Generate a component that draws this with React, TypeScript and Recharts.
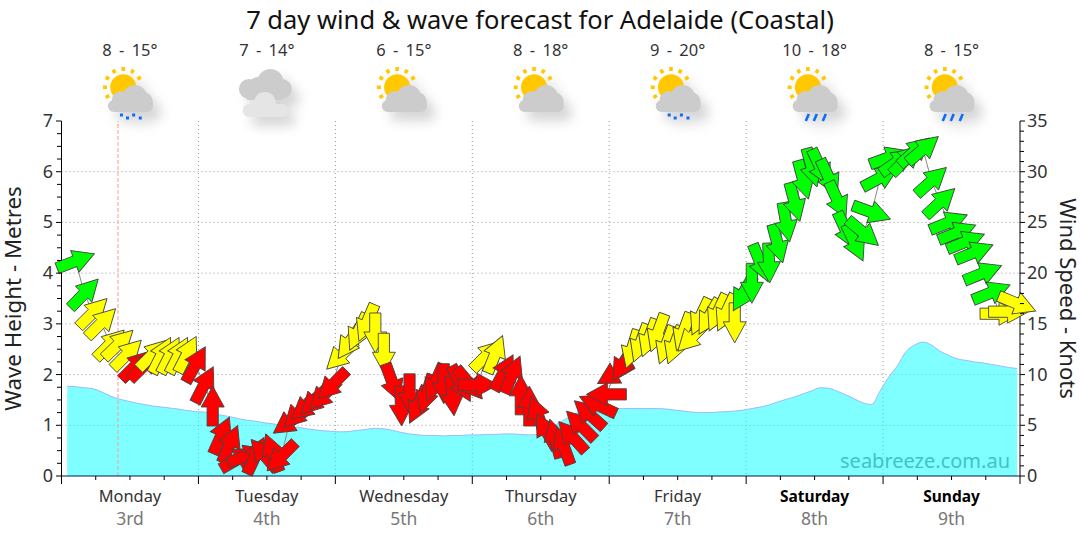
import React from "react";
import { ComposedChart, Area, Line, XAxis, YAxis, CartesianGrid, ReferenceLine } from "recharts";

const FONT = "'Noto Sans', Tahoma, sans-serif";

const dayNames = ["Monday", "Tuesday", "Wednesday", "Thursday", "Friday", "Saturday", "Sunday"];
const dayDates = ["3rd", "4th", "5th", "6th", "7th", "8th", "9th"];
const boldDays = ["Saturday", "Sunday"];
const tempLabels = ["8 - 15°", "7 - 14°", "6 - 15°", "8 - 18°", "9 - 20°", "10 - 18°", "8 - 15°"];
const iconKinds = ["drizzle", "overcast", "partly", "partly", "drizzle", "rain", "rain"];

const hourTicks = [0, 6, 12, 18, 24, 30, 36, 42, 48, 54, 60, 66, 72, 78, 84, 90, 96, 102, 108, 114, 120, 126, 132, 138, 144, 150, 156, 162, 168];
const dayBoundaries = [24, 48, 72, 96, 120, 144];
const noonTicks = [12, 36, 60, 84, 108, 132, 156];
const waveTicks = [0, 0.25, 0.5, 0.75, 1, 1.25, 1.5, 1.75, 2, 2.25, 2.5, 2.75, 3, 3.25, 3.5, 3.75, 4, 4.25, 4.5, 4.75, 5, 5.25, 5.5, 5.75, 6, 6.25, 6.5, 6.75, 7];
const waveGrid = [1, 2, 3, 4, 5, 6];
const windTicks = Array.from({ length: 36 }, (_, k) => k);

const waveHeight = [
  1.77, 1.76, 1.74, 1.72, 1.66, 1.58, 1.52, 1.48, 1.44, 1.41,
  1.38, 1.36, 1.34, 1.32, 1.29, 1.27, 1.26, 1.23, 1.2, 1.17,
  1.13, 1.1, 1.08, 1.05, 1.03, 1.0, 0.97, 0.96, 0.93, 0.91,
  0.89, 0.88, 0.87, 0.88, 0.9, 0.92, 0.94, 0.93, 0.9, 0.86,
  0.83, 0.81, 0.8, 0.8, 0.79, 0.8, 0.8, 0.81, 0.81, 0.82,
  0.82, 0.83, 0.83, 0.82, 0.81, 0.82, 0.88, 1.0, 1.1, 1.2,
  1.27, 1.31, 1.33, 1.33, 1.33, 1.33, 1.33, 1.33, 1.33, 1.33,
  1.32, 1.3, 1.28, 1.26, 1.25, 1.25, 1.26, 1.27, 1.28, 1.3,
  1.33, 1.36, 1.4, 1.46, 1.51, 1.56, 1.62, 1.68, 1.74, 1.73,
  1.67, 1.6, 1.52, 1.44, 1.41, 1.68, 1.95, 2.17, 2.45, 2.58,
  2.64, 2.58, 2.46, 2.38, 2.31, 2.28, 2.25, 2.23, 2.2, 2.17,
  2.14, 2.12,
];

const windSpeed = [
  null, 21.2, 18.0, 16.1, 15.1, 13.0, 13.0, 12.0, 10.9, 10.9,
  12.0, 11.9, 11.9, 11.9, 12.0, 11.0, 9.0, 6.9, 4.0, 3.15,
  1.7, 2.0, 2.0, 2.1, 2.3, 1.9, 5.35, 6.2, 6.9, 7.5,
  8.0, 9.0, 11.9, 13.2, 14.2, 15.1, 14.1, 12.1, 9.2, 6.9,
  8.1, 7.0, 8.1, 9.2, 9.1, 7.9, 9.1, 9.1, 9.0, 11.9,
  12.0, 10.2, 10.0, 8.0, 6.9, 6.0, 4.4, 3.7, 3.0, 3.9,
  5.0, 6.1, 7.0, 8.05, 10.1, 11.1, 12.5, 13.1, 13.6, 14.1,
  12.9, 12.9, 14.2, 13.7, 15.7, 15.7, 16.1, 16.1, 15.1, 18.0,
  19.0, 21.0, 21.0, 22.9, 25.0, 27.0, 29.2, 30.4, 30.4, 29.4,
  27.2, 24.2, 23.0, 24.0, 26.0, 29.4, 31.4, 31.0, 31.2, 32.0,
  32.2, 29.1, 27.0, 25.0, 24.0, 23.1, 22.05, 20.0, 18.1, 16.0,
  16.2, 17.0,
];

// compass heading each arrow points to, degrees
const windHeading = [
  0, 69, 44, 45, 45, 45, 46, 45, 45, 45,
  45, 27, 27, 27, 27, 29, 27, 0, 24, 23,
  60, 70, 25, 320, 340, 225, 235, 225, 230, 225,
  225, 225, 226, 215, 205, 203, 180, 180, 160, 178,
  180, 205, 197, 204, 180, 175, 152, 140, 90, 45,
  22, 28, 23, 0, 0, 340, 330, 345, 340, 318,
  315, 312, 295, 270, 240, 212, 197, 200, 200, 200,
  200, 200, 200, 225, 205, 210, 205, 205, 180, 210,
  180, 158, 178, 165, 170, 165, 165, 165, 155, 155,
  155, 155, 155, 130, 110, 62, 70, 55, 45, 48,
  50, 48, 47, 68, 68, 68, 68, 68, 68, 90,
  90, 112,
];

const chartData = waveHeight.map((wave, i) => ({
  hour: 1 + i * 1.5,
  wave,
  wind: windSpeed[i],
  heading: windHeading[i],
}));

const arrowColour = (speed: number) => (speed < 11.5 ? "#ff0000" : speed < 17.5 ? "#ffff00" : "#00ff00");
const ARROW = "0,-20 11.5,1 5.6,1 5.6,20 -5.6,20 -5.6,1 -11.5,1";

const WindArrow = (props: any) => {
  const { cx, cy, payload, index } = props;
  if (payload.wind == null || cy == null) return <g key={index} />;
  return (
    <polygon
      key={index}
      points={ARROW}
      transform={`translate(${cx},${cy}) rotate(${payload.heading})`}
      fill={arrowColour(payload.wind)}
      stroke="#444"
      strokeWidth={0.9}
    />
  );
};

const Cloud = ({ fill }: { fill: string }) => (
  <g fill={fill}>
    <circle cx={5} cy={2} r={12} />
    <circle cx={-9} cy={5} r={9} />
    <circle cx={13} cy={7} r={10} />
    <rect x={-22} y={5} width={45} height={12} rx={6} />
  </g>
);

const rayAngles = [0, 30, 60, 240, 270, 300, 330];

const Sun = () => (
  <g>
    <circle cx={-6.7} cy={-7.7} r={13} fill="#ffc800" />
    {rayAngles.map((a) => (
      <rect key={a} x={-8.5} y={-28} width={3.6} height={4} fill="#ffc800" transform={`rotate(${a} -6.7 -7.7)`} />
    ))}
  </g>
);

const WeatherIcon = ({ kind }: { kind: string }) => {
  if (kind === "overcast") {
    return (
      <g style={{ filter: "drop-shadow(8px 9px 6px rgba(0,0,0,0.16))" }}>
        <g fill="#cccccc">
          <circle cx={3.5} cy={-13} r={13} />
          <circle cx={-18} cy={-6} r={10} />
          <circle cx={-9} cy={-8} r={10} />
          <circle cx={15} cy={-6} r={10} />
          <rect x={-20} y={-8} width={35} height={13} />
        </g>
        <g fill="#e5e5e5">
          <circle cx={-2} cy={8} r={11} />
          <rect x={-24} y={9} width={45} height={13} rx={6} />
        </g>
      </g>
    );
  }
  return (
    <g style={{ filter: "drop-shadow(8px 9px 6px rgba(0,0,0,0.16))" }}>
      <Sun />
      <Cloud fill="#cccccc" />
      {kind === "drizzle" &&
        [[-8.5, 20], [-2.5, 23], [3.7, 20], [10.3, 23]].map(([x, y]) => (
          <rect key={x} x={x - 1.5} y={y - 1.5} width={3} height={3} fill="#0a6cff" />
        ))}
      {kind === "rain" &&
        [-7, 1, 10].map((x) => (
          <line key={x} x1={x + 1.2} y1={19} x2={x - 1.8} y2={26} stroke="#0a6cff" strokeWidth={2.6} />
        ))}
    </g>
  );
};

const TopTick = (props: any) => {
  const { x, payload } = props;
  const d = noonTicks.indexOf(payload.value);
  if (d < 0) return <g />;
  return (
    <g>
      <text x={x} y={56} textAnchor="middle" fontSize={16.5} wordSpacing={3} fill="#333" fontFamily={FONT}>
        {tempLabels[d]}
      </text>
      <g transform={`translate(${x},95)`}>
        <WeatherIcon kind={iconKinds[d]} />
      </g>
    </g>
  );
};

const BottomTick = (props: any) => {
  const { x, payload } = props;
  const v = payload.value;
  const major = v % 24 === 0;
  const d = noonTicks.indexOf(v);
  const bold = d >= 0 && boldDays.includes(dayNames[d]);
  return (
    <g>
      <line x1={x} x2={x} y1={476} y2={major ? 484 : 480} stroke="#000" />
      {d >= 0 && (
        <>
          <text x={x} y={502} textAnchor="middle" fontSize={bold ? 15.5 : 16.4} fill={bold ? "#000" : "#333"} fontWeight={bold ? 700 : 400} fontFamily={FONT}>
            {dayNames[d]}
          </text>
          <text x={x} y={525} textAnchor="middle" fontSize={17.5} fill="#777" fontFamily={FONT}>
            {dayDates[d]}
          </text>
        </>
      )}
    </g>
  );
};

const LeftTick = (props: any) => {
  const { y, payload } = props;
  const v = payload.value;
  const major = Number.isInteger(v);
  return (
    <g>
      <line x1={61.5} x2={major ? 56 : 57} y1={y} y2={y} stroke="#000" />
      {major && (
        <text x={53} y={y + 6} textAnchor="end" fontSize={18} fill="#333" fontFamily={FONT}>
          {v}
        </text>
      )}
    </g>
  );
};

const RightTick = (props: any) => {
  const { y, payload } = props;
  const v = payload.value;
  const major = v % 5 === 0;
  return (
    <g>
      <line x1={1020} x2={major ? 1025 : 1024} y1={y} y2={y} stroke="#000" />
      {major && (
        <text x={1027} y={y + 6} textAnchor="start" fontSize={18} fill="#333" fontFamily={FONT}>
          {v}
        </text>
      )}
    </g>
  );
};

export default function App() {
  return (
    <div style={{ position: "absolute", left: 0, top: 0, width: 1080, height: 540, background: "#fff", overflow: "hidden" }}>
      <style>{`.wind-line .recharts-line-dots { filter: drop-shadow(8px 9px 6px rgba(0,0,0,0.38)); }`}</style>
      <ComposedChart width={1080} height={540} data={chartData} margin={{ top: 0, right: 0, bottom: 0, left: 0 }}>
        <XAxis xAxisId="top" orientation="top" type="number" dataKey="hour" domain={[0, 168]} ticks={noonTicks} interval={0} height={121} axisLine={false} tickLine={false} tick={<TopTick />} />
        <XAxis xAxisId="bottom" type="number" dataKey="hour" domain={[0, 168]} ticks={hourTicks} interval={0} height={64} axisLine={{ stroke: "#001a4d" }} tickLine={false} tick={<BottomTick />} />
        <YAxis yAxisId="wave" type="number" domain={[0, 7]} ticks={waveTicks} interval={0} width={61.5} axisLine={{ stroke: "#000" }} tickLine={false} tick={<LeftTick />}
          label={{ value: "Wave Height - Metres", angle: -90, position: "insideLeft", offset: 0, dx: 13, style: { fontSize: 22.3, fill: "#222", fontFamily: FONT, textAnchor: "middle" } }} />
        <YAxis yAxisId="wind" orientation="right" type="number" domain={[0, 35]} ticks={windTicks} interval={0} width={60} axisLine={{ stroke: "#000" }} tickLine={false} tick={<RightTick />}
          label={{ value: "Wind Speed - Knots", angle: 90, position: "insideRight", offset: 0, dx: -12, style: { fontSize: 22, fill: "#222", fontFamily: FONT, textAnchor: "middle" } }} />
        <CartesianGrid xAxisId="bottom" yAxisId="wave" stroke="#999" strokeDasharray="1 3" horizontalValues={waveGrid} verticalValues={dayBoundaries} />
        <ReferenceLine xAxisId="bottom" yAxisId="wave" x={9.9} stroke="#ff9a9a" strokeDasharray="4 2" />
        <Area xAxisId="bottom" yAxisId="wave" type="monotone" dataKey="wave" stroke="#99bbff" strokeWidth={1} fill="#00ffff" fillOpacity={0.5} dot={false} activeDot={false} isAnimationActive={false} />
        <Line className="wind-line" xAxisId="bottom" yAxisId="wind" type="linear" dataKey="wind" stroke="#888" strokeWidth={1} dot={<WindArrow />} activeDot={false} connectNulls={false} isAnimationActive={false} />
      </ComposedChart>
      <div style={{ position: "absolute", left: 0, right: 0, top: 2, textAlign: "center", fontFamily: FONT, fontSize: 25.5, color: "#111", whiteSpace: "nowrap" }}>
        7 day wind &amp; wave forecast for Adelaide (Coastal)
      </div>
      <div style={{ position: "absolute", right: 70, top: 447, fontFamily: FONT, fontSize: 20, color: "#40c4c4", whiteSpace: "nowrap" }}>
        seabreeze.com.au
      </div>
    </div>
  );
}
